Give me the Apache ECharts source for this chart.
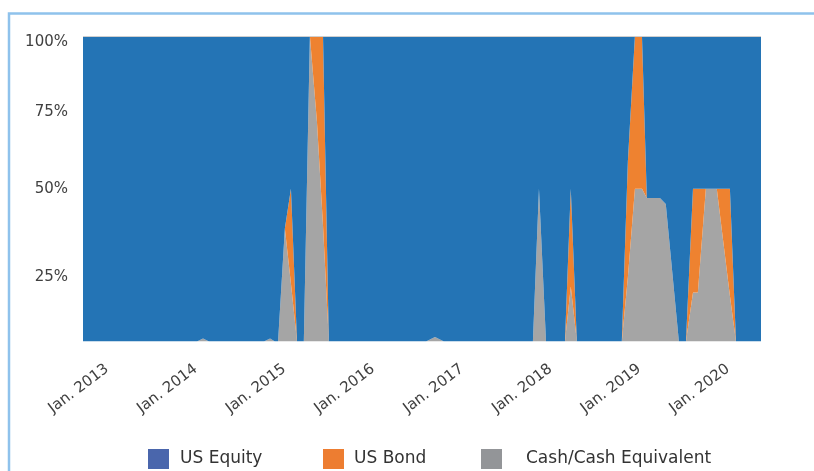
<!DOCTYPE html>
<html><head><meta charset="utf-8">
<script src="https://cdn.jsdelivr.net/npm/echarts@6/dist/echarts.min.js"></script>
<style>html,body{margin:0;padding:0;background:#fff}#c{width:814px;height:471px}</style>
</head><body><div id="c"></div>
<script>
// ---- data ----
const dates = ['2012-09-24','2014-01-06','2014-01-31','2014-02-25','2014-10-09','2014-11-03','2014-11-23',
  '2014-12-06','2015-01-03','2015-01-28','2015-02-22','2015-03-22','2015-04-16','2015-05-15','2015-06-09','2015-07-03',
  '2016-08-06','2016-09-12','2016-10-19','2017-10-20','2017-11-14','2017-12-13','2018-03-01','2018-03-25','2018-04-19',
  '2018-10-21','2018-11-15','2018-12-14','2019-01-12','2019-02-01','2019-03-27','2019-04-20','2019-06-13',
  '2019-07-12','2019-08-10','2019-08-30','2019-10-02','2019-11-16','2020-01-09','2020-02-03','2020-05-16'];
const cash   = [0,0,1,0,0,1,0, 0,37,19,0,0,100,72,38,0, 0,1.5,0,0,50,0,0,18,0, 0,21,50,50,47,47,45,0, 0,16,16,50,50,15,0,0];
const bond   = [0,0,0,0,0,0,0, 0,0,31,0,0,0,28,62,0, 0,0,0,0,0,0,0,32,0, 0,38,50,50,0,0,0,0, 0,34,34,0,0,35,0,0];
const equity = [100,100,99,100,100,99,100, 100,63,50,100,100,0,0,0,100, 100,98.5,100,100,50,100,100,50,100, 100,41,0,0,53,53,55,100, 100,50,50,50,50,50,100,100];
const seriesNames = ['US Equity','US Bond','Cash/Cash Equivalent'];
const yTicks = [0,25,50,75,100];
const xMin = '2012-09-24', xMax = '2020-05-16';

const FONT = 'DejaVu Sans';
const areaColors = {'US Equity':'#2474b5','US Bond':'#ee8230','Cash/Cash Equivalent':'#a5a5a5'};
const legendColors = {'US Equity':'#4a66ac','US Bond':'#ed7d31','Cash/Cash Equivalent':'#939598'};
const valuesOf = {'US Equity':equity,'US Bond':bond,'Cash/Cash Equivalent':cash};

const ts = s => Date.parse(s);
const mkData = arr => dates.map((d,i)=>[ts(d), arr[i]]);

// stacking order: cash at bottom, bond, equity on top
const stackOrder = ['Cash/Cash Equivalent','US Bond','US Equity'];
const series = stackOrder.map(name => ({
  name, type:'line', stack:'total', data: mkData(valuesOf[name]),
  showSymbol:false, symbol:'none', smooth:false,
  lineStyle:{width:0, color:legendColors[name]},
  itemStyle:{color:legendColors[name]},
  areaStyle:{color:areaColors[name], opacity:1},
  emphasis:{disabled:true},
  markLine: name==='US Equity' ? {silent:true, symbol:'none', label:{show:false},
     lineStyle:{color:'#cfcfcf', width:1, type:'solid'}, data:[{yAxis:100}]} : undefined
}));

function legendFor(name, left, gap){
  return {left, top:449, padding:0, itemWidth:21, itemHeight:20, icon:'rect', selectedMode:false,
    data:[{name, itemStyle:{color:legendColors[name]}}],
    textStyle:{fontFamily:FONT, fontSize:17, color:'#333', padding:[5,0,0,gap]}};
}

const chart = echarts.init(document.getElementById('c'), null, {renderer:'canvas'});
chart.setOption({
  animation:false,
  useUTC:true,
  backgroundColor:'#fff',
  grid:{left:83, right:53, top:36, bottom:129.5, containLabel:false},
  xAxis:{type:'time', min:ts(xMin), max:ts(xMax),
    minInterval:365*86400000, maxInterval:366*86400000,
    axisLine:{show:false}, axisTick:{show:false}, splitLine:{show:false},
    axisLabel:{rotate:37, margin:26, fontFamily:FONT, fontSize:15, color:'#404040',
      formatter:function(v){const d=new Date(v); return (d.getUTCMonth()===0 && d.getUTCDate()===1) ? 'Jan. '+d.getUTCFullYear() : '';}}
  },
  yAxis:{type:'value', min:yTicks[0], max:yTicks[yTicks.length-1], interval:25,
    axisLine:{show:false}, axisTick:{show:false}, splitLine:{show:false},
    axisLabel:{margin:15, fontFamily:FONT, fontSize:15, color:'#404040', lineHeight:12,
      formatter:function(v){ if(v===0) return ''; if(v===100) return '\n100%'; if(v===25) return '\n\n25%'; return v+'%'; }}
  },
  legend:[legendFor('US Equity',148,6), legendFor('US Bond',323,5), legendFor('Cash/Cash Equivalent',481,19)],
  graphic:[{type:'rect', silent:true, z:-10, shape:{x:9, y:13.5, width:1000, height:1000},
    style:{fill:'none', stroke:'#8fc2ec', lineWidth:2.5}}],
  series
});
</script></body></html>
